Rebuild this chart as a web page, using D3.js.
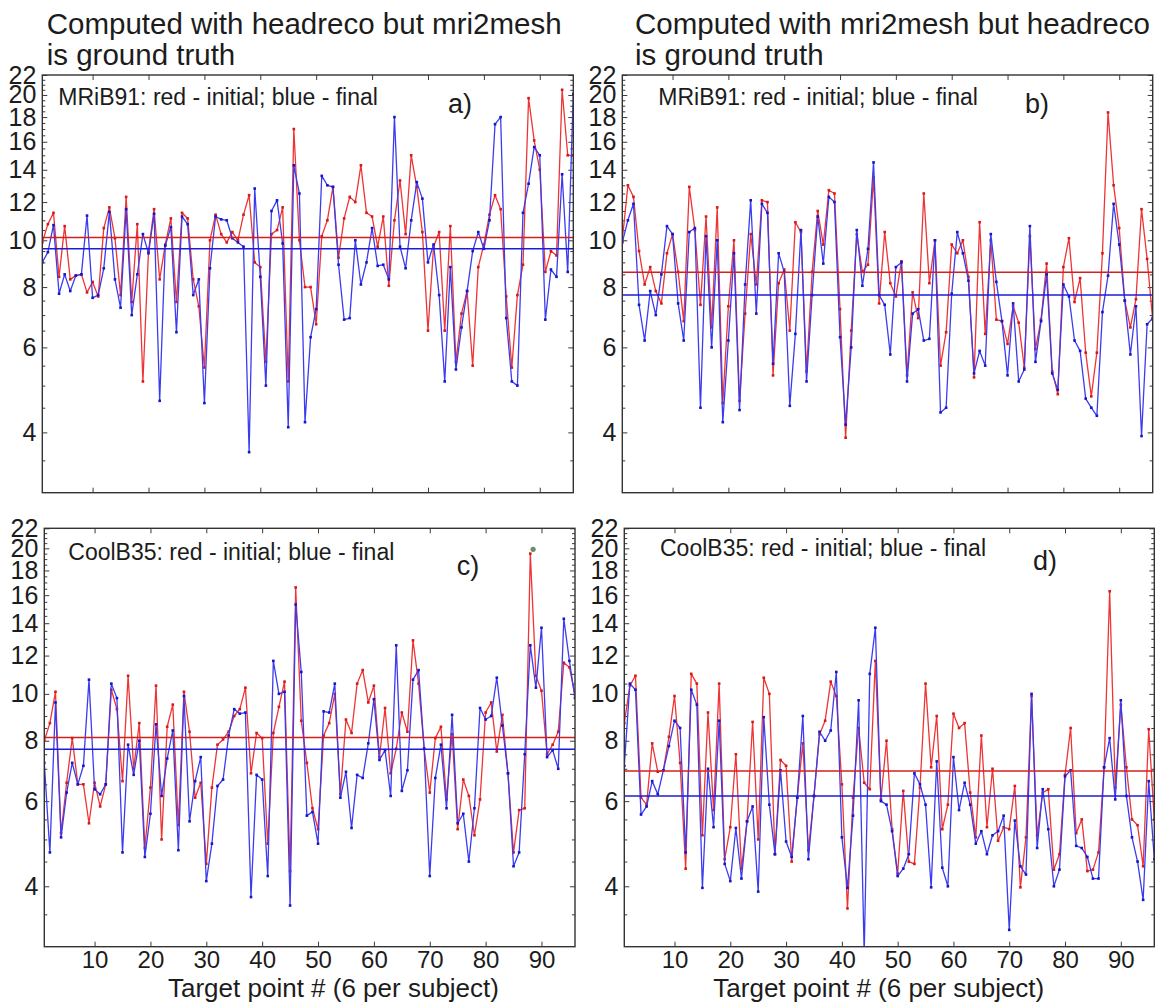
<!DOCTYPE html>
<html>
<head>
<meta charset="utf-8">
<script src="https://cdn.jsdelivr.net/npm/d3@7"></script>
<style>
  html, body { margin: 0; padding: 0; background: #fff; }
  svg { display: block; font-family: "Liberation Sans", Arial, sans-serif; }
</style>
</head>
<body>
<svg id="chart" width="1163" height="1002"></svg>
<script>
// Target point index (6 target points per subject, 16 subjects)
const targetIndex = d3.range(1, 97);

// Tick values
const xTickValues = [10, 20, 30, 40, 50, 60, 70, 80, 90];
const yTickValues = [4, 6, 8, 10, 12, 14, 16, 18, 20, 22];
const yMinorValues = d3.range(3.5, 22, 0.5).filter(v => v % 2 !== 0);

// a) computed with headreco, mri2mesh as ground truth, MRiB91 coil
const aInitial = [9.9,10.8,11.4,8.4,10.7,8.3,8.45,8.5,7.8,8.2,7.65,10.6,11.7,10.1,7.7,12.3,7.45,10.8,5.1,9.5,
  11.6,8.3,9.8,11.1,7.45,11.4,11.1,8.3,7.3,5.45,10.0,11.3,10.3,9.9,10.4,10.0,11.3,12.4,9.0,8.8,
  5.6,10.3,10.5,11.7,5.1,17.0,10.0,8.0,8.0,6.7,10.2,11.0,12.9,9.2,11.1,12.3,12.0,14.3,11.4,11.2,
  9.7,11.2,8.05,11.0,13.3,10.3,15.0,12.9,10.4,6.5,9.7,10.4,6.5,10.7,5.6,7.05,7.85,5.5,8.8,9.8,
  11.3,12.4,11.6,7.65,5.45,7.7,8.9,19.7,16.1,14.0,8.6,9.5,9.3,20.5,15.0,15.0];
const aFinal = [9.0,9.45,10.75,7.75,8.5,7.85,8.45,8.5,11.25,7.6,7.7,8.75,11.45,8.3,7.25,11.6,7.0,8.5,10.3,9.4,
  11.35,4.65,9.75,10.65,6.45,11.2,10.8,7.7,8.3,4.6,8.75,11.2,11.05,11.0,10.1,9.9,9.7,3.64,12.8,8.4,
  5.0,11.5,12.1,9.85,4.1,14.3,12.5,4.2,6.3,7.2,13.6,13.0,12.9,8.9,6.85,6.9,10.0,8.1,9.0,10.6,
  8.85,8.9,8.3,18.0,9.7,8.75,11.0,13.2,12.2,9.0,9.8,7.7,5.1,8.8,5.4,6.6,7.85,9.5,10.4,9.6,
  11.0,17.4,18.0,6.9,5.1,5.0,11.4,13.1,15.6,15.0,6.85,8.7,8.4,13.7,8.6,20.1];
const aMeans = [10.13, 9.61];

// b) computed with mri2mesh, headreco as ground truth, MRiB91 coil
const bInitial = [10.0,13.0,12.3,9.5,8.1,8.8,7.85,7.4,9.4,10.3,8.6,6.8,12.9,10.5,7.35,11.2,6.6,11.7,4.6,7.3,
  10.0,4.65,7.05,10.3,8.1,12.1,12.0,5.25,8.15,8.7,6.5,10.9,10.4,5.35,8.6,11.5,9.8,12.7,12.5,7.2,
  3.9,6.5,10.3,8.6,8.9,13.5,7.4,10.4,8.15,7.65,9.05,5.25,7.8,6.9,12.5,8.15,10.0,5.5,6.45,9.8,
  9.4,10.0,8.4,5.2,10.9,6.4,10.0,6.85,6.8,6.1,7.3,6.75,5.45,10.2,5.95,6.85,8.95,5.35,4.8,8.8,
  10.1,7.45,8.35,5.85,4.75,5.85,9.4,18.4,13.0,10.6,7.5,6.6,7.55,11.6,9.15,6.85];
const bFinal = [9.9,11.0,11.9,7.35,6.2,7.85,7.0,8.5,10.7,10.3,7.4,6.2,10.4,10.6,4.5,10.2,6.0,10.0,4.2,6.2,
  9.4,4.45,8.1,12.1,7.05,11.9,11.4,5.55,9.4,8.6,4.54,6.4,10.5,5.1,7.7,11.2,8.95,12.3,12.0,6.3,
  4.15,6.0,10.5,8.05,9.6,14.5,7.7,7.35,5.8,8.8,9.0,5.1,7.05,7.2,6.2,6.25,10.0,4.4,4.5,7.75,
  10.4,9.4,8.25,5.3,5.9,5.5,10.3,8.2,6.8,5.25,7.4,5.1,5.4,10.7,5.6,6.8,8.5,5.3,4.9,8.1,
  7.65,6.2,5.9,4.7,4.5,4.33,7.1,8.45,11.9,9.8,7.5,5.8,7.3,3.93,6.7,6.9];
const bMeans = [8.59, 7.70];

// c) computed with headreco, mri2mesh as ground truth, CoolB35 coil
const cInitial = [8.0,8.7,10.1,5.15,6.55,8.1,6.5,6.5,5.4,6.55,5.85,6.5,10.2,9.3,6.6,10.9,7.0,8.7,4.8,6.4,
  10.4,5.0,8.55,9.5,5.35,10.1,8.35,6.1,6.55,4.45,6.4,7.85,8.05,8.35,9.0,9.3,10.3,6.85,8.3,8.1,
  4.9,8.3,9.4,10.6,4.3,16.6,8.8,7.2,5.8,5.25,8.2,8.7,10.0,6.2,8.85,8.3,10.5,11.2,9.6,10.4,
  7.4,9.35,6.85,7.7,9.15,8.35,12.9,10.5,7.7,6.25,8.1,8.55,6.05,8.25,5.25,6.65,6.15,5.1,6.05,9.15,
  9.6,7.6,9.05,6.85,4.7,5.75,5.8,19.5,10.9,10.15,7.5,7.85,8.35,11.6,11.35,9.95];
const cFinal = [7.2,4.7,9.6,5.05,6.25,7.2,6.5,7.1,10.7,6.35,6.2,6.5,10.5,9.8,4.7,7.85,6.8,8.0,4.6,5.65,
  8.65,6.15,7.35,8.4,4.75,9.9,5.45,6.6,7.4,4.1,4.9,6.45,6.65,8.2,9.3,9.1,9.15,3.8,6.8,6.65,
  4.2,11.7,10.0,10.1,3.65,15.3,11.1,5.6,5.7,4.9,9.2,9.15,10.5,6.1,6.9,5.28,6.8,6.7,7.9,9.75,
  7.3,7.65,6.15,12.6,6.3,6.95,10.7,11.2,7.7,4.2,6.7,7.85,5.8,9.05,5.4,5.65,4.5,5.8,9.35,8.85,
  9.0,10.8,8.6,6.85,4.4,4.7,7.5,12.6,10.3,13.7,7.4,7.65,7.0,14.3,11.7,9.8];
const cMeans = [8.12, 7.68];
const cMarker = { index: 88.5, value: 19.9 };

// d) computed with mri2mesh, headreco as ground truth, CoolB35 coil
const dInitial = [8.7,10.4,10.9,6.1,5.9,7.9,6.9,6.95,8.15,9.9,7.2,4.35,11.0,10.5,5.1,9.15,5.75,10.5,4.55,5.3,
  7.5,4.35,5.45,8.75,5.0,10.8,10.0,4.66,7.3,7.1,4.5,6.1,7.9,4.75,6.15,8.25,8.8,10.6,9.9,6.5,
  3.6,6.1,8.5,6.55,6.35,11.7,6.05,8.0,5.25,4.25,6.3,4.5,4.45,6.4,10.5,7.05,9.0,5.25,5.9,9.1,
  8.5,8.7,6.25,5.05,8.2,5.3,7.0,4.97,5.3,5.25,6.45,3.98,5.05,9.9,5.1,6.25,6.35,4.33,4.66,6.8,
  8.5,5.15,5.5,4.3,4.33,4.7,7.05,16.3,6.4,9.5,7.05,5.5,5.35,4.4,8.45,5.5];
const dFinal = [7.1,10.5,10.2,5.63,5.85,6.6,6.2,6.95,7.8,8.8,8.5,4.7,10.2,9.5,3.97,7.0,5.3,8.8,4.45,4.1,
  5.28,4.15,5.45,5.85,3.9,8.95,5.9,4.66,6.95,4.95,4.6,6.1,9.0,4.55,6.15,8.35,8.0,8.4,11.1,5.05,
  3.97,5.6,9.7,2.9,11.0,13.7,6.0,5.9,5.2,4.2,4.35,4.66,6.85,6.5,5.9,3.98,7.25,4.37,4.0,7.4,
  5.75,6.55,5.9,4.9,5.2,4.66,5.1,5.2,5.6,3.25,5.47,4.4,4.23,10.0,4.8,6.35,5.25,4.0,4.33,6.75,
  6.95,4.85,4.8,4.6,4.15,4.15,7.05,8.1,6.05,9.7,6.15,5.05,4.5,3.75,6.6,4.55];
const dMeans = [6.93, 6.15];

const titleA = ["Computed with headreco but mri2mesh", "is ground truth"];
const titleB = ["Computed with mri2mesh but headreco", "is ground truth"];
const noteMRi = "MRiB91: red - initial; blue - final";
const noteCool = "CoolB35: red - initial; blue - final";
const xAxisTitle = "Target point # (6 per subject)";

const panels = [
  { id: "a", initial: aInitial, final: aFinal, means: aMeans, box: [42.3, 75, 573.3, 492.7],
    note: noteMRi, noteAt: [58.3, 105], letterAt: [448, 113], xLabels: false },
  { id: "b", initial: bInitial, final: bFinal, means: bMeans, box: [622.3, 75, 1152.7, 492.7],
    note: noteMRi, noteAt: [658.3, 105], letterAt: [1025, 113], xLabels: false },
  { id: "c", initial: cInitial, final: cFinal, means: cMeans, box: [44.3, 528.3, 575, 946.7],
    note: noteCool, noteAt: [68.3, 560], letterAt: [456.7, 575], xLabels: true, marker: cMarker,
    xTitleAt: [168, 997] },
  { id: "d", initial: dInitial, final: dFinal, means: dMeans, box: [624.3, 528.3, 1154.3, 946.7],
    note: noteCool, noteAt: [660, 556], letterAt: [1033, 570], xLabels: true,
    xTitleAt: [713.3, 997] }
];

const svg = d3.select("#chart");
const ink = "#1c1c1c";
const redLine = "#ee3434", redDot = "#d81818", redMean = "#d41f1f";
const blueLine = "#3b3bef", blueDot = "#1515cc", blueMean = "#1c1cd6";

// Column titles
[[titleA, 46.7], [titleB, 635]].forEach(([lines, x]) => {
  svg.append("text")
    .attr("x", x).attr("y", 34)
    .attr("font-size", 29.5).attr("fill", ink)
    .selectAll("tspan").data(lines).join("tspan")
    .attr("x", x).attr("dy", (d, i) => i === 0 ? 0 : 31)
    .text(d => d);
});

panels.forEach(p => {
  const [x0, y0, x1, y1] = p.box;
  const x = d3.scaleLinear().domain([1, 96]).range([x0, x1]);
  const y = d3.scaleLog().domain([3, 22]).range([y1, y0]);
  const g = svg.append("g");

  const clipId = "clip-" + p.id;
  svg.append("clipPath").attr("id", clipId)
    .append("rect").attr("x", x0).attr("y", y0).attr("width", x1 - x0).attr("height", y1 - y0);

  const styleAxis = (sel, size) => {
    sel.select(".domain").remove();
    sel.selectAll(".tick line").attr("stroke", "#3a3a3a").attr("stroke-width", 1);
    sel.selectAll(".tick text").attr("fill", ink).attr("font-size", size || 24)
      .attr("font-family", "'Liberation Sans', Arial, sans-serif");
  };

  // y axes: labelled ticks on the left, plain ticks on the right, minor ticks on both
  g.append("g").attr("transform", `translate(${x0},0)`)
    .call(d3.axisLeft(y).tickValues(yTickValues).tickFormat(d3.format("d")).tickSize(-5).tickPadding(6))
    .call(styleAxis, 25);
  g.append("g").attr("transform", `translate(${x0},0)`)
    .call(d3.axisLeft(y).tickValues(yMinorValues).tickFormat("").tickSize(-3))
    .call(styleAxis);
  g.append("g").attr("transform", `translate(${x1},0)`)
    .call(d3.axisRight(y).tickValues(yTickValues).tickFormat("").tickSize(-5))
    .call(styleAxis);
  g.append("g").attr("transform", `translate(${x1},0)`)
    .call(d3.axisRight(y).tickValues(yMinorValues).tickFormat("").tickSize(-3))
    .call(styleAxis);

  // x axes
  const bottom = d3.axisBottom(x).tickValues(xTickValues).tickSize(-5).tickPadding(4);
  if (!p.xLabels) bottom.tickFormat("");
  g.append("g").attr("transform", `translate(0,${y1})`).call(bottom).call(styleAxis);
  g.append("g").attr("transform", `translate(0,${y0})`)
    .call(d3.axisTop(x).tickValues(xTickValues).tickFormat("").tickSize(-5))
    .call(styleAxis);

  // series
  const plot = g.append("g").attr("clip-path", `url(#${clipId})`);
  const line = d3.line().x((d, i) => x(targetIndex[i])).y(d => y(d));
  [[p.initial, redLine, redDot], [p.final, blueLine, blueDot]].forEach(([vals, lc, dc]) => {
    plot.append("path").datum(vals)
      .attr("d", line).attr("fill", "none")
      .attr("stroke", lc).attr("stroke-width", 1.3).attr("stroke-linejoin", "round");
    plot.selectAll(null).data(vals).join("rect")
      .attr("x", (d, i) => x(targetIndex[i]) - 1.3)
      .attr("y", d => y(d) - 1.3)
      .attr("width", 2.6).attr("height", 2.6)
      .attr("fill", dc);
  });

  // mean levels
  [[p.means[0], redMean], [p.means[1], blueMean]].forEach(([m, c]) => {
    plot.append("line")
      .attr("x1", x0).attr("x2", x1).attr("y1", y(m)).attr("y2", y(m))
      .attr("stroke", c).attr("stroke-width", 1.5);
  });

  if (p.marker) {
    g.append("circle")
      .attr("cx", x(p.marker.index)).attr("cy", y(p.marker.value))
      .attr("r", 2.6).attr("fill", "#6b8f5e");
  }

  // frame
  g.append("rect")
    .attr("x", x0).attr("y", y0).attr("width", x1 - x0).attr("height", y1 - y0)
    .attr("fill", "none").attr("stroke", "#333").attr("stroke-width", 1.4);

  // panel texts
  g.append("text").attr("x", p.noteAt[0]).attr("y", p.noteAt[1])
    .attr("font-size", 23).attr("fill", ink).text(p.note);
  g.append("text").attr("x", p.letterAt[0]).attr("y", p.letterAt[1])
    .attr("font-size", 27).attr("fill", ink).text(p.id + ")");
  if (p.xTitleAt) {
    g.append("text").attr("x", p.xTitleAt[0]).attr("y", p.xTitleAt[1])
      .attr("font-size", 26).attr("fill", ink).text(xAxisTitle);
  }
});
</script>
</body>
</html>
